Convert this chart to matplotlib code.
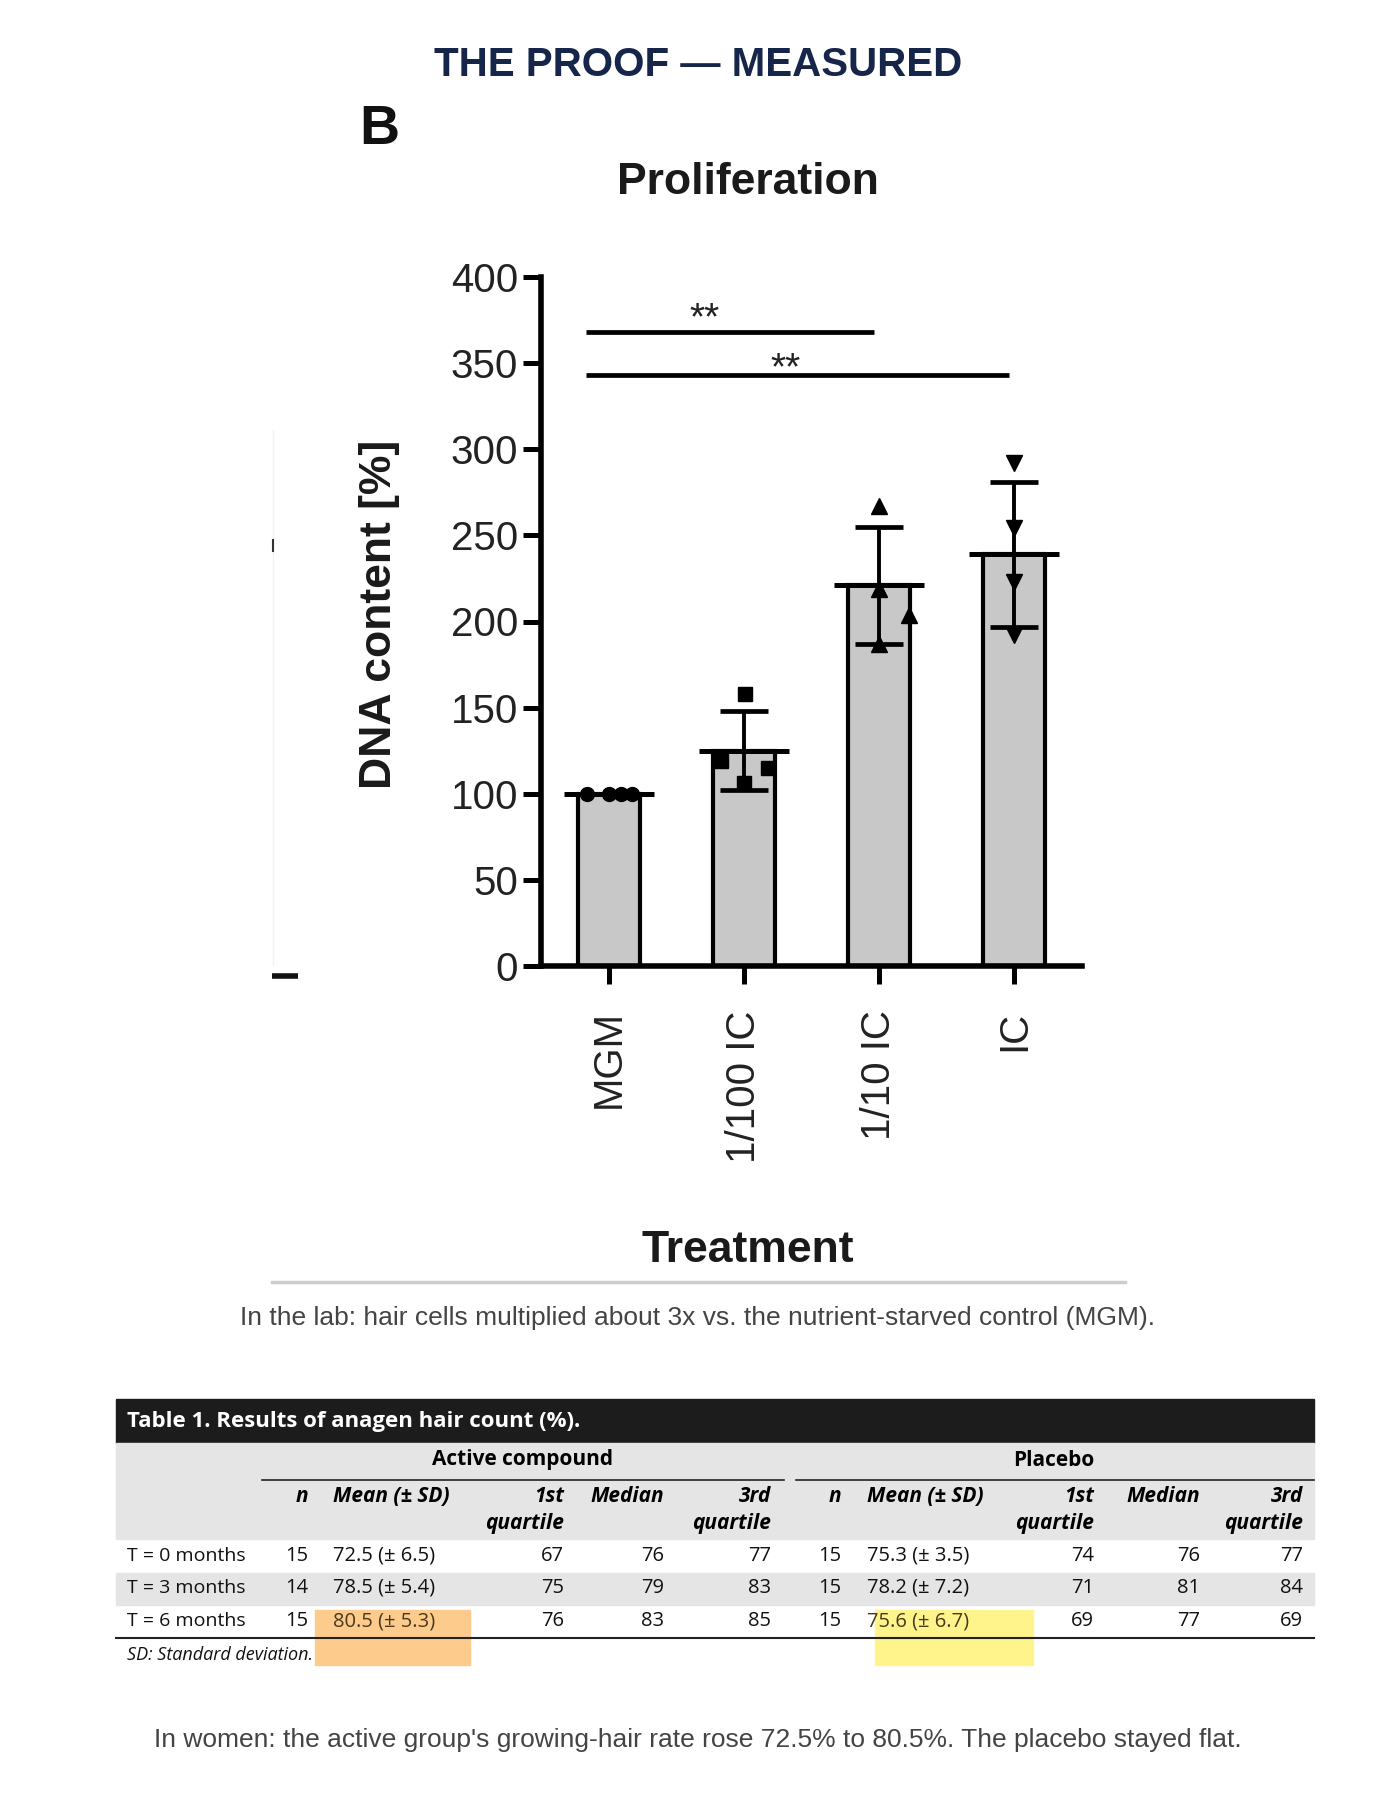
import matplotlib
matplotlib.use('Agg')
import numpy as np
import matplotlib.pyplot as plt
from matplotlib.patches import Rectangle

# ── data: proliferation assay ─────────────────────────
groups = ['MGM', '1/100 IC', '1/10 IC', 'IC']
means = [100, 125, 221, 239]
sds = [0, 22.8, 33.8, 42]
points = [[100, 100, 100, 100],
          [158, 119, 115, 106],
          [267, 219, 204, 187],
          [292, 254, 223, 192]]
jitter = [[-0.16, 0.0, 0.09, 0.175],
          [0.01, -0.17, 0.175, 0.0],
          [0.0, 0.0, 0.22, 0.0],
          [0.0, 0.0, 0.0, 0.0]]
markers = ['o', 's', '^', 'v']
# (from group, to group, bar height, label, label x, label y)
sig = [(0, 2, 368, '**', 0.71, 378), (0, 3, 343, '**', 1.31, 349)]
yticks = [0, 50, 100, 150, 200, 250, 300, 350, 400]

# ── data: table 1 ─────────────────────────────────────
row_lbl = ['T = 0 months', 'T = 3 months', 'T = 6 months']
act_n = [15, 14, 15]
act_mean = [72.5, 78.5, 80.5]
act_sd = [6.5, 5.4, 5.3]
act_q1 = [67, 75, 76]
act_med = [76, 79, 83]
act_q3 = [77, 83, 85]
pla_n = [15, 15, 15]
pla_mean = [75.3, 78.2, 75.6]
pla_sd = [3.5, 7.2, 6.7]
pla_q1 = [74, 71, 69]
pla_med = [76, 81, 77]
pla_q3 = [77, 84, 69]

NAVY = '#16254a'
ARIAL = ['Liberation Sans', 'DejaVu Sans']
TFONT = ['Open Sans', 'DejaVu Sans']

W, H = 1397, 1800
fig = plt.figure(figsize=(W / 100, H / 100), dpi=100)
fig.patch.set_facecolor('white')

# overlay in pixel coordinates for texts, table, rules
ov = fig.add_axes([0, 0, 1, 1])
ov.set_xlim(0, W)
ov.set_ylim(H, 0)
ov.axis('off')

ov.text(698, 65, 'THE PROOF — MEASURED', color=NAVY, fontsize=29,
        fontweight='bold', family=ARIAL, ha='center', va='center')
ov.text(379, 130, 'B', fontsize=40, fontweight='bold', family=ARIAL,
        ha='center', va='center', color='#111')
ov.text(748, 182, 'Proliferation', fontsize=32, fontweight='bold',
        family=ARIAL, ha='center', va='center', color='#1a1a1a')
ov.text(379, 614, 'DNA content [%]', fontsize=32, fontweight='bold',
        family=ARIAL, ha='center', va='center', rotation=90, color='#1a1a1a')
ov.text(748, 1251, 'Treatment', fontsize=32, fontweight='bold',
        family=ARIAL, ha='center', va='center', color='#1a1a1a')

# leftover crop marks of the source figure
ov.plot([273, 273], [430, 965], color='#f2f2f2', lw=1)
ov.plot([273, 273], [540, 551], color='#333', lw=1.5)
ov.plot([272, 298], [976, 976], color='#111', lw=4, solid_capstyle='butt')

ov.plot([272, 1125], [1282, 1282], color='#cccccc', lw=2.5)
ov.text(698, 1318, 'In the lab: hair cells multiplied about 3x vs. the '
        'nutrient-starved control (MGM).', fontsize=19, family=ARIAL,
        ha='center', va='center', color='#444444')
ov.text(698, 1740, "In women: the active group's growing-hair rate rose "
        "72.5% to 80.5%. The placebo stayed flat.", fontsize=19,
        family=ARIAL, ha='center', va='center', color='#444444')

# ── table ─────────────────────────────────────────────
L, R = 116, 1314
ov.add_patch(Rectangle((L, 1399), R - L, 44, color='#1c1c1c', zorder=1))
ov.text(127, 1421, 'Table 1. Results of anagen hair count (%).', color='white',
        fontsize=16, fontweight='bold', family=TFONT, va='center', zorder=3)
ov.add_patch(Rectangle((L, 1443), R - L, 96, color='#e5e5e5', zorder=1))
ov.add_patch(Rectangle((L, 1573), R - L, 32, color='#e5e5e5', zorder=1))
ov.add_patch(Rectangle((315, 1610), 155, 55, color='#fdcb8c', zorder=1.5))
ov.add_patch(Rectangle((875, 1610), 158, 55, color='#fff38c', zorder=1.5))

ov.text(522, 1460, 'Active compound', fontsize=15, fontweight='bold',
        family=TFONT, ha='center', va='center', zorder=3)
ov.text(1054, 1460, 'Placebo', fontsize=15, fontweight='bold',
        family=TFONT, ha='center', va='center', zorder=3)
ov.plot([262, 784], [1480, 1480], color='#222', lw=1.2, zorder=2)
ov.plot([796, R], [1480, 1480], color='#222', lw=1.2, zorder=2)
ov.plot([L, R], [1638, 1638], color='#222', lw=1.5, zorder=2)

row_y = [1556, 1588, 1621]
blocks = [
    ((308, 333, 564, 664, 771), act_n, act_mean, act_sd, act_q1, act_med, act_q3),
    ((841, 867, 1094, 1200, 1303), pla_n, pla_mean, pla_sd, pla_q1, pla_med, pla_q3),
]
hkw = dict(fontsize=15, fontweight='bold', style='italic', family=TFONT,
           va='center', zorder=3)
for cols, n, mu, sd, q1, med, q3 in blocks:
    xn, xm, x1, xmed, x3 = cols
    ov.text(xn, 1497, 'n', ha='right', **hkw)
    ov.text(xm, 1497, 'Mean (± SD)', ha='left', **hkw)
    ov.text(x1, 1497, '1st', ha='right', **hkw)
    ov.text(x1, 1523, 'quartile', ha='right', **hkw)
    ov.text(xmed, 1497, 'Median', ha='right', **hkw)
    ov.text(x3, 1497, '3rd', ha='right', **hkw)
    ov.text(x3, 1523, 'quartile', ha='right', **hkw)
    for i, y in enumerate(row_y):
        kw = dict(fontsize=14.5, family=TFONT, va='center', zorder=3,
                  color='#111')
        ov.text(xn, y, str(n[i]), ha='right', **kw)
        kw['color'] = '#4a3a1c' if i == 2 else '#111'
        ov.text(xm, y, f'{mu[i]} (± {sd[i]})', ha='left', **kw)
        kw['color'] = '#111'
        ov.text(x1, y, str(q1[i]), ha='right', **kw)
        ov.text(xmed, y, str(med[i]), ha='right', **kw)
        ov.text(x3, y, str(q3[i]), ha='right', **kw)

for i, y in enumerate(row_y):
    ov.text(127, y, row_lbl[i], fontsize=14, family=TFONT, va='center',
            zorder=3, color='#111')
ov.text(127, 1655, 'SD: Standard deviation.', fontsize=13, style='italic',
        family=TFONT, va='center', zorder=3, color='#111')

# ── bar chart ─────────────────────────────────────────
ax = fig.add_axes([541 / W, 1 - 966 / H, 541 / W, (966 - 277) / H])
ax.set_facecolor('none')
x = np.arange(len(groups))
ax.bar(x, means, width=0.46, color='#c8c8c8', edgecolor='black',
       linewidth=3, zorder=2)
ax.hlines(means, x - 0.333, x + 0.333, color='black', lw=3.6, zorder=3)
ax.errorbar(x, means, yerr=sds, fmt='none', ecolor='black', elinewidth=2.8,
            capsize=17, capthick=3.4, zorder=4)
for i in range(len(groups)):
    ms = 10 if markers[i] in ('o', 's') else 12
    ax.plot(x[i] + np.array(jitter[i]), points[i], linestyle='none',
            marker=markers[i], ms=ms, color='black', zorder=5, clip_on=False)

for i, j, h, lab, lx, ly in sig:
    ax.plot([x[i] - 0.17, x[j] - 0.04], [h, h], color='black', lw=3.4,
            clip_on=False, solid_capstyle='butt')
    ax.text(lx, ly, lab, fontsize=28, ha='center', va='center_baseline',
            family=ARIAL, color='#222')

ax.set_xlim(-0.5, 3.5)
ax.set_ylim(0, 400)
ax.set_yticks(yticks)
ax.set_xticks(x)
ax.set_xticklabels(groups, rotation=90, family=ARIAL, fontsize=29,
                   color='#222')
ax.set_yticklabels([str(v) for v in yticks], family=ARIAL, fontsize=29,
                   color='#222')
for s in ['top', 'right']:
    ax.spines[s].set_visible(False)
for s in ['left', 'bottom']:
    ax.spines[s].set_linewidth(4)
ax.tick_params(axis='both', length=13, width=3.6)
ax.tick_params(axis='y', pad=3.5)
ax.tick_params(axis='x', pad=19)

fig.savefig('out.png', dpi=100, facecolor='white')
